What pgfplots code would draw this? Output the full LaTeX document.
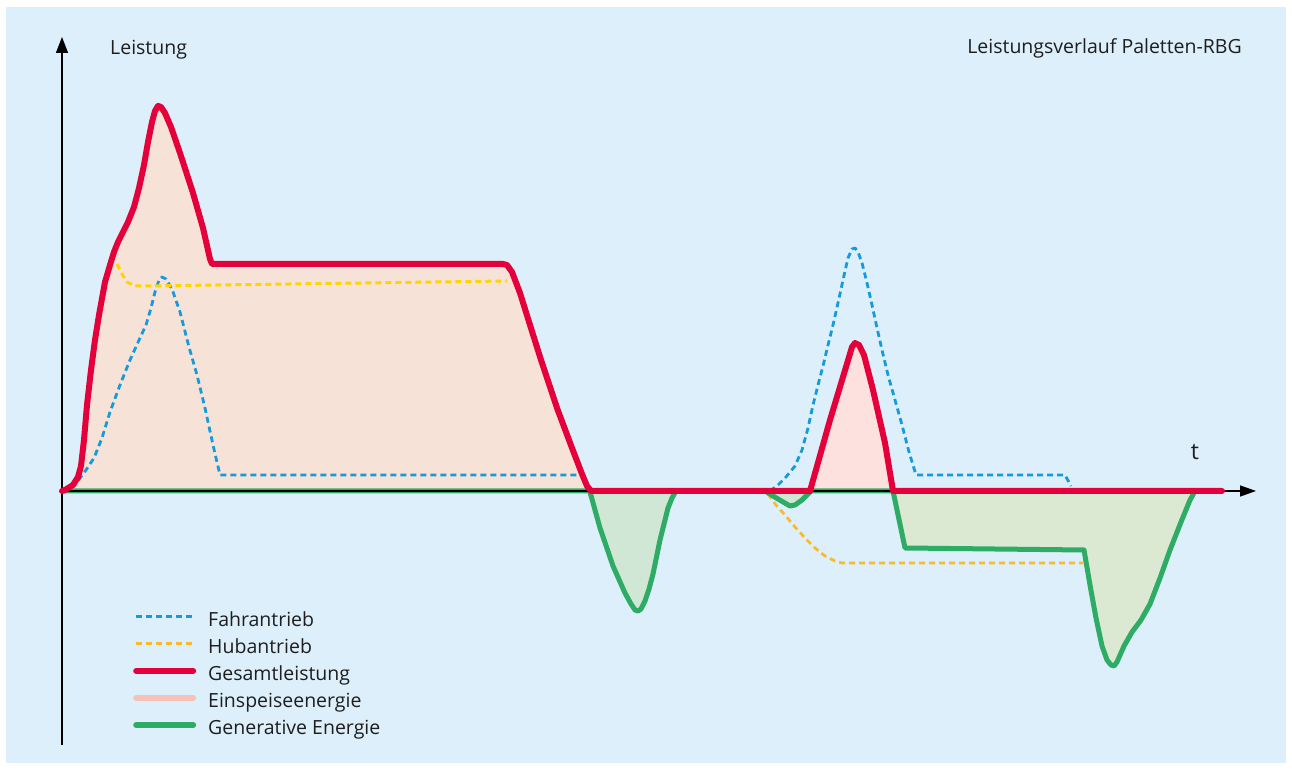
\documentclass[border=0pt]{standalone}
\usepackage{fontspec}
\setmainfont{Open Sans}
\usepackage{pgfplots}
\pgfplotsset{compat=1.18}
\usepackage{pgfplotstable}
\usetikzlibrary{arrows.meta}

\definecolor{panel}{HTML}{DCEFFA}
\definecolor{peach}{HTML}{F7E2D8}
\definecolor{pinkfill}{HTML}{FDE1DE}
\definecolor{greenfill}{HTML}{D1E7D6}
\definecolor{greenfillB}{HTML}{DBE9D3}
\definecolor{redline}{HTML}{E4003B}
\definecolor{greenline}{HTML}{2EAC66}
\definecolor{blueline}{HTML}{159BDB}
\definecolor{yellowA}{HTML}{FFD500}
\definecolor{yellowB}{HTML}{FBBA2E}
\definecolor{salmon}{HTML}{F8C1B8}
\definecolor{textc}{HTML}{1E1E1E}

% x: time, y: power (zero line = 0), both in picture units
\pgfplotstableread{
x y
0 0
3 1
11 6
16 14
19 25
22 51
25 86
29 121
33 151
37 176
43 209
48 226
52 239
56 249
60 257
66 269
72 284
77 303
82 326
86 349
90 369
93 380
96 385
99 384
103 378
109 364
118 338
131 298
141 263
148 232
150 227
441 227
445 226
450 219
458 198
468 166
479 131
495 83
510 43
520 17
525 5
529 0
748 0
768 71
784 124
790 144
793 148
797 146
802 136
811 101
823 48
831 0
1160 0
}\gesamt

\pgfplotstableread{
x y
0 0
528 0
528 -1
538 -37
551 -75
563 -102
569 -113
573 -119
576 -120
579 -118
583 -110
587 -98
591 -83
598 -49
606 -17
610 -7
614 0
703 0
716 -8
728 -15
733 -14
740 -9
749 0
831 0
843 -57
1022 -59
1028 -94
1034 -127
1040 -155
1045 -169
1049 -174
1052 -175
1055 -171
1062 -155
1070 -141
1079 -129
1088 -113
1098 -87
1108 -59
1119 -31
1128 -9
1133 0
}\generativ

\pgfplotstableread{
x y
0 0
8 3
16 10
24 21
32 33
40 53
48 79
58 106
68 131
78 153
84 166
89 183
93 199
97 211
100 214
104 212
110 202
118 179
127 144
135 116
143 83
151 46
158 16
518 16
}\fahrA

\pgfplotstableread{
x y
708 0
716 6
724 14
733 25
740 41
746 63
751 86
756 106
761 125
766 146
771 166
776 188
781 211
786 233
790 242
793 243
796 239
800 228
805 208
810 186
815 163
820 141
826 116
833 91
840 66
847 39
854 16
1003 16
1009 5
}\fahrB

\pgfplotstableread{
x y
55 227
60 217
65 209
73 205
83 205
445 210
}\hubA

\pgfplotstableread{
x y
706 -3
714 -14
723 -24
733 -36
743 -47
753 -57
763 -65
773 -70
780 -72
1021 -72
}\hubB

\begin{document}
\begin{tikzpicture}
\begin{axis}[
    scale only axis,
    width=1292pt, height=770pt,
    xmin=-62, xmax=1230, ymin=-279, ymax=491,
    axis lines=none,
    clip=false,
    legend cell align=left,
    legend style={
        at={(axis cs:71,-121.7)}, anchor=north west,
        draw=none, fill=none, inner sep=0pt,
        font=\fontsize{19.5}{24}\selectfont,
        nodes={inner sep=0pt, anchor=base west, text height=14pt, text depth=13pt, text=textc},
    },
    legend image code/.code={\draw[#1] (0pt,10pt) -- (57pt,10pt);},
    /tikz/every odd column/.append style={column sep=12pt},
    every axis plot/.append style={line join=round},
]
% background
\fill[white] (axis cs:-62,-279) rectangle (axis cs:1230,491);
\fill[panel] (axis cs:-56,-272) rectangle (axis cs:1224,484);

% areas
\addplot[forget plot, draw=none, fill=peach, restrict x to domain=-1:530] table {\gesamt};
\addplot[forget plot, draw=none, fill=pinkfill, restrict x to domain=747:832] table {\gesamt};
\addplot[forget plot, draw=none, fill=greenfill, restrict x to domain=527:615] table {\generativ};
\addplot[forget plot, draw=none, fill=greenfill, restrict x to domain=700:750] table {\generativ};
\addplot[forget plot, draw=none, fill=greenfillB, restrict x to domain=830:1135] table {\generativ};

% drives
\addplot[forget plot, blueline, line width=2.8pt, dash pattern=on 6pt off 4pt] table {\fahrA};
\addplot[forget plot, blueline, line width=2.8pt, dash pattern=on 6pt off 4pt] table {\fahrB};
\addplot[forget plot, yellowA, line width=3pt, dash pattern=on 6pt off 4pt] table {\hubA};
\addplot[forget plot, yellowB, line width=2.8pt, dash pattern=on 6pt off 4pt] table {\hubB};

% generative energy
\addplot[forget plot, greenline, line width=5pt] table {\generativ};

% axes
\draw[black, line width=1.3pt, -{Triangle[length=16pt,width=11pt]}] (axis cs:0,0) -- (axis cs:1194,0);
\draw[black, line width=1.3pt, -{Triangle[length=16pt,width=12pt]}] (axis cs:0,-254) -- (axis cs:0,454);

% total power
\addplot[forget plot, redline, line width=6pt, line cap=round] table {\gesamt};

% labels
\node[anchor=base west, font=\fontsize{19.5}{24}\selectfont, text=textc, inner sep=0pt] at (axis cs:48,436.5) {Leistung};
\node[anchor=base east, font=\fontsize{19.5}{24}\selectfont, text=textc, inner sep=0pt] at (axis cs:1180,437) {Leistungsverlauf Paletten-RBG};
\node[anchor=base, font=\fontsize{23}{27}\selectfont, text=textc, inner sep=0pt] at (axis cs:1133,31) {t};

% legend
\addlegendimage{blueline, line width=2.8pt, dash pattern=on 6pt off 4pt}
\addlegendentry{Fahrantrieb}
\addlegendimage{yellowB, line width=2.8pt, dash pattern=on 6pt off 4pt}
\addlegendentry{Hubantrieb}
\addlegendimage{redline, line width=6pt, line cap=round}
\addlegendentry{Gesamtleistung}
\addlegendimage{salmon, line width=6pt, line cap=round}
\addlegendentry{Einspeiseenergie}
\addlegendimage{greenline, line width=6pt, line cap=round}
\addlegendentry{Generative Energie}
\end{axis}
\end{tikzpicture}
\end{document}
